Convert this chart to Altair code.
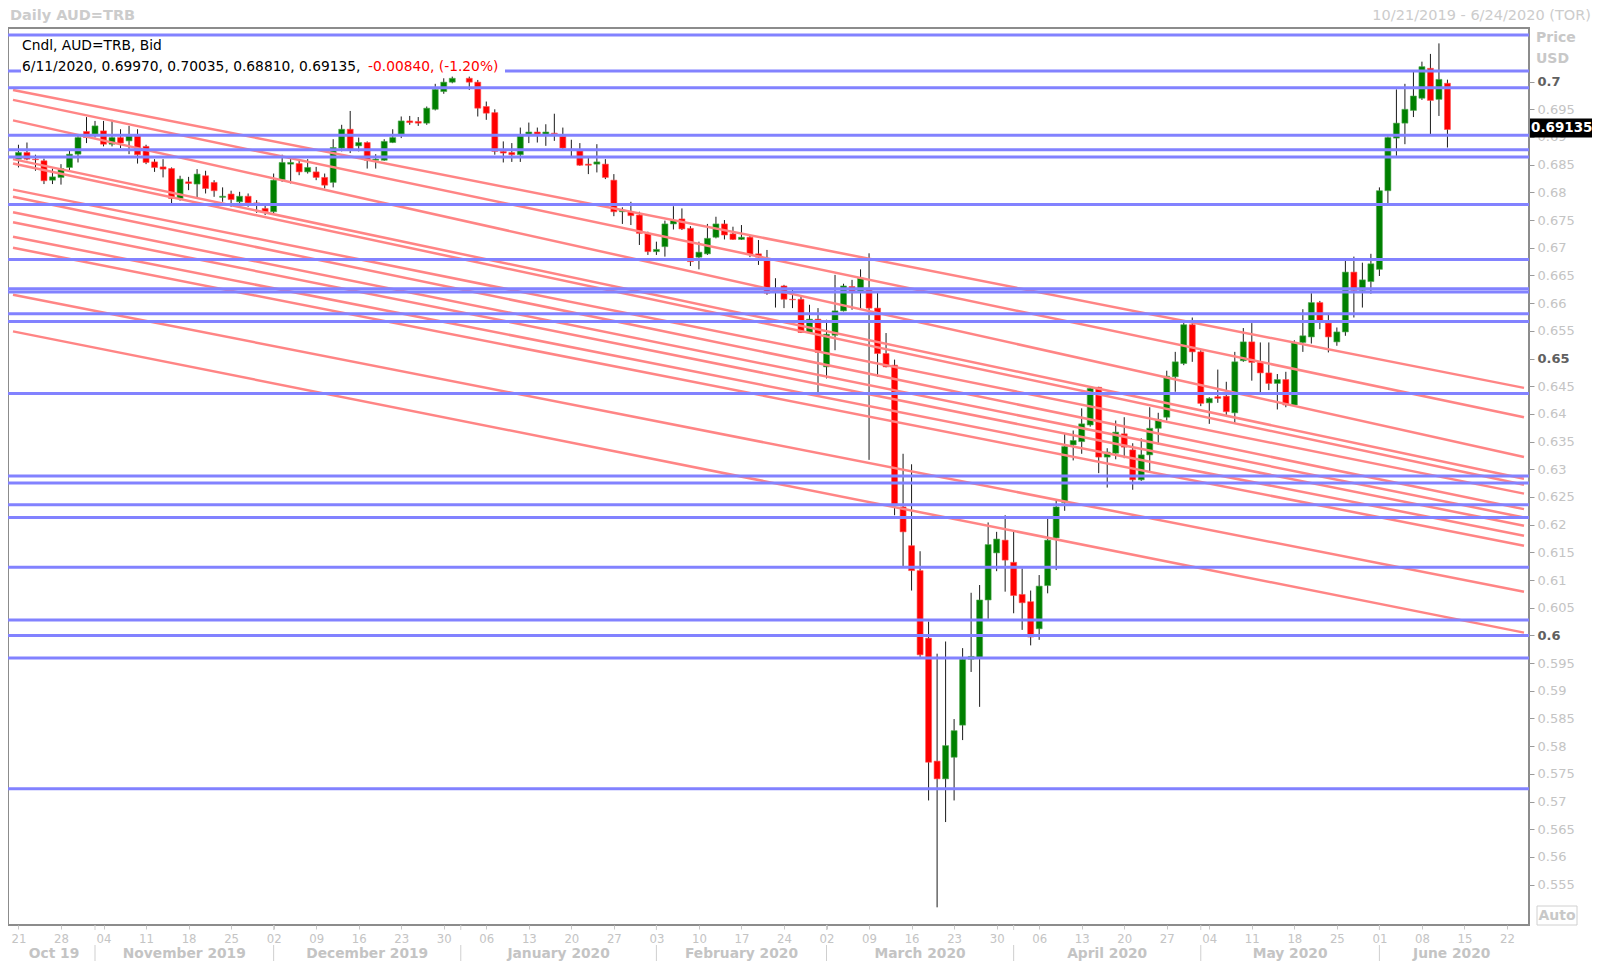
import altair as alt
import pandas as pd

# ---------------- data ----------------
first_day = "2019-10-21"
last_day = "2020-06-11"
axis_end_day = "2020-06-24"
missing_days = ["2020-01-01"]

opens = [.6860,.6872,.6860,.6857,.6822,.6827,.6845,.6869,.6910,.6905,
         .6911,.6887,.6899,.6893,.6902,.6883,.6855,.6846,.6843,.6789,
         .6819,.6815,.6830,.6818,.6791,.6797,.6783,.6793,.6781,.6771,
         .6765,.6823,.6851,.6852,.6837,.6837,.6827,.6818,.6880,.6914,
         .6884,.6890,.6858,.6858,.6890,.6905,.6929,.6928,.6925,.6950,
         .6982,.6999,.7006,.6999,.6955,.6944,.6874,.6872,.6868,.6905,
         .6909,.6905,.6907,.6901,.6878,.6875,.6851,.6851,.6851,.6822,
         .6765,.6765,.6759,.6726,.6693,.6702,.6743,.6752,.6735,.6683,
         .6689,.6719,.6743,.6725,.6715,.6719,.6689,.6677,.6624,.6631,
         .6607,.6607,.6547,.6571,.6485,.6542,.6586,.6630,.6621,.6624,
         .6591,.6509,.6488,.6232,.6162,.6117,.5995,.5773,.5741,.5780,
         .5838,.5957,.5960,.6064,.6149,.6172,.6132,.6074,.6061,.6012,
         .6090,.6176,.6240,.6344,.6350,.6380,.6448,.6322,.6329,.6364,
         .6335,.6281,.6326,.6374,.6394,.6467,.6491,.6561,.6512,.6420,
         .6431,.6432,.6402,.6496,.6530,.6493,.6474,.6455,.6462,.6416,
         .6529,.6539,.6601,.6564,.6530,.6548,.6656,.6623,.6639,.6661,
         .6803,.6898,.6925,.6948,.6970,.7024,.6968,.69970]
highs = [.6886,.6890,.6868,.6861,.6843,.6851,.6877,.6905,.6936,.6929,
         .6929,.6931,.6914,.6920,.6914,.6886,.6860,.6860,.6845,.6830,
         .6828,.6842,.6839,.6822,.6809,.6803,.6801,.6798,.6786,.6777,
         .6834,.6868,.6865,.6860,.6860,.6846,.6834,.6896,.6922,.6947,
         .6899,.6892,.6869,.6896,.6914,.6937,.6938,.6936,.6955,.6996,
         .7006,.7009,.7009,.7003,.6964,.6950,.6892,.6889,.6917,.6926,
         .6917,.6923,.6942,.6917,.6895,.6889,.6862,.6887,.6860,.6833,
         .6773,.6783,.6765,.6729,.6711,.6749,.6775,.6771,.6739,.6711,
         .6743,.6756,.6750,.6738,.6741,.6723,.6714,.6696,.6645,.6633,
         .6627,.6612,.6597,.6591,.6570,.6651,.6635,.6642,.6661,.6690,
         .6621,.6546,.6498,.6328,.6309,.6152,.6025,.5967,.5989,.5849,
         .5977,.6077,.6091,.6204,.6187,.6217,.6187,.6121,.6081,.6109,
         .6212,.6244,.6365,.6370,.6410,.6449,.6449,.6338,.6388,.6394,
         .6347,.6356,.6412,.6402,.6478,.6512,.6564,.6574,.6515,.6430,
         .6480,.6458,.6512,.6555,.6564,.6529,.6529,.6472,.6476,.6533,
         .6589,.6618,.6604,.6579,.6556,.6677,.6684,.6673,.6689,.6809,
         .6901,.6986,.6996,.7018,.7036,.7050,.7069,.70035]
lows = [.6845,.6858,.6839,.6815,.6815,.6814,.6837,.6854,.6889,.6899,
        .6883,.6883,.6880,.6869,.6852,.6851,.6837,.6827,.6779,.6785,
        .6804,.6791,.6798,.6792,.6783,.6774,.6775,.6774,.6763,.6759,
        .6762,.6819,.6816,.6831,.6834,.6822,.6807,.6809,.6874,.6871,
        .6874,.6843,.6843,.6857,.6889,.6898,.6922,.6920,.6922,.6948,
        .6978,.6997,.6985,.6937,.6931,.6868,.6854,.6855,.6855,.6889,
        .6890,.6884,.6893,.6878,.6865,.6848,.6833,.6836,.6824,.6757,
        .6743,.6741,.6705,.6687,.6687,.6684,.6733,.6732,.6667,.6661,
        .6687,.6717,.6715,.6714,.6714,.6683,.6669,.6615,.6592,.6591,
        .6591,.6546,.6546,.6438,.6464,.6515,.6585,.6588,.6591,.6317,
        .6467,.6484,.6217,.6124,.6081,.5960,.5702,.5509,.5663,.5702,
        .5811,.5934,.5871,.6030,.6116,.6079,.6040,.6010,.5982,.5992,
        .6076,.6118,.6225,.6316,.6328,.6377,.6293,.6267,.6318,.6320,
        .6263,.6279,.6296,.6344,.6388,.6440,.6488,.6494,.6414,.6382,
        .6420,.6396,.6382,.6494,.6460,.6438,.6443,.6408,.6412,.6414,
        .6512,.6527,.6553,.6511,.6523,.6541,.6574,.6592,.6617,.6649,
        .6779,.6866,.6887,.6936,.6967,.6904,.6938,.68810]
closes = [.6872,.6860,.6859,.6821,.6828,.6843,.6869,.6899,.6899,.6920,
          .6887,.6899,.6889,.6902,.6868,.6854,.6845,.6842,.6789,.6824,
          .6816,.6833,.6807,.6803,.6793,.6787,.6793,.6781,.6779,.6765,
          .6822,.6854,.6854,.6837,.6845,.6827,.6813,.6881,.6914,.6878,
          .6890,.6858,.6860,.6892,.6899,.6929,.6926,.6925,.6952,.6986,
          .6999,.7006,.6999,.6952,.6943,.6874,.6871,.6868,.6902,.6909,
          .6905,.6909,.6906,.6880,.6877,.6849,.6849,.6855,.6827,.6765,
          .6768,.6758,.6726,.6693,.6697,.6743,.6749,.6734,.6675,.6692,
          .6717,.6743,.6723,.6715,.6719,.6688,.6683,.6618,.6627,.6607,
          .6606,.6547,.6571,.6511,.6544,.6586,.6631,.6619,.6645,.6591,
          .6509,.6485,.6237,.6187,.6117,.5965,.5771,.5741,.5801,.5828,
          .5957,.5962,.6064,.6164,.6174,.6136,.6072,.6059,.5997,.6089,
          .6172,.6232,.6341,.6352,.6382,.6446,.6322,.6331,.6367,.6340,
          .6281,.6326,.6374,.6390,.6468,.6494,.6561,.6512,.6419,.6428,
          .6428,.6404,.6494,.6530,.6493,.6474,.6455,.6462,.6416,.6529,
          .6541,.6601,.6568,.6539,.6548,.6656,.6623,.6642,.6671,.6803,
          .6899,.6925,.6950,.6974,.7027,.6966,.7004,.69135]

day_labels = ["21","28","04","11","18","25","02","09","16","23","30","06",
              "13","20","27","03","10","17","24","02","09","16","23","30",
              "06","13","20","27","04","11","18","25","01","08","15","22"]
month_names = ["Oct 19","November 2019","December 2019","January 2020",
               "February 2020","March 2020","April 2020","May 2020","June 2020"]
month_first_days = ["2019-11-01","2019-12-02","2020-01-01","2020-02-03",
                    "2020-03-02","2020-04-01","2020-05-01","2020-06-01"]

support_levels = [0.7084,0.7019,0.6989,0.6903,0.6877,0.6864,0.6778,0.6679,
                  0.6626,0.6620,0.6581,0.6567,0.6437,0.6288,0.6275,0.6236,
                  0.6213,0.6123,0.6028,0.6000,0.5959,0.5723]
trend_left = [0.6985,0.6967,0.6930,0.6860,0.6852,0.6805,0.6792,0.6764,
              0.6746,0.6720,0.6700,0.6615,0.6549]
trend_right = [0.6447,0.6394,0.6322,0.6283,0.6272,0.6256,0.6228,0.6213,
               0.6198,0.6180,0.6162,0.6079,0.6005]

last_price = 0.69135
price_ticks = [0.555,0.56,0.565,0.57,0.575,0.58,0.585,0.59,0.595,0.6,0.605,0.61,
               0.615,0.62,0.625,0.63,0.635,0.64,0.645,0.65,0.655,0.66,0.665,
               0.67,0.675,0.68,0.685,0.69,0.695,0.7]
legend_line1 = "Cndl, AUD=TRB, Bid"
legend_line2a = "6/11/2020, 0.69970, 0.70035, 0.68810, 0.69135,"
legend_line2b = "-0.00840, (-1.20%)"

# ---------------- frame ----------------
W, H = 1521, 897
X_DOM = [-0.642, 177.0]
Y_DOM = [0.54771, 0.70968]

all_days = pd.bdate_range(first_day, axis_end_day)
pos = {d: i for i, d in enumerate(all_days)}
trade_days = [d for d in pd.bdate_range(first_day, last_day)
              if d not in pd.to_datetime(missing_days)]
ks = [pos[d] for d in trade_days]

candles = pd.DataFrame({"k": ks, "o": opens, "h": highs, "l": lows, "c": closes})
candles["dir"] = ["up" if c >= o else "down" for o, c in zip(opens, closes)]

monday_k = [pos[d] for d in all_days if d.weekday() == 0]
month_k = [pos[all_days[all_days >= pd.Timestamp(m)][0]] for m in month_first_days]
bounds = [X_DOM[0]] + month_k + [X_DOM[1]]
months = pd.DataFrame({"k": [(a + b) / 2 for a, b in zip(bounds[:-1], bounds[1:])],
                       "name": month_names})
seps = pd.DataFrame({"k": month_k})

levels = pd.DataFrame({"p": support_levels})
trend_rows = []
for i, (a, b) in enumerate(zip(trend_left, trend_right)):
    trend_rows.append({"id": i, "k": X_DOM[0], "p": a})
    trend_rows.append({"id": i, "k": X_DOM[1], "p": b})
trends = pd.DataFrame(trend_rows)

xs = alt.Scale(domain=X_DOM, nice=False, zero=False)
ys = alt.Scale(domain=Y_DOM, nice=False, zero=False)

label_arr = "[" + ",".join("'%s'" % s for s in day_labels) + "]"
x_axis = alt.Axis(values=monday_k, labelExpr=label_arr + "[round(datum.value/5)]",
                  title=None, grid=False, domain=False, tickColor="#c8c8c8",
                  tickSize=4, labelColor="#c4c4c4", labelFontSize=13,
                  labelFont="DejaVu Sans Condensed, DejaVu Sans", labelPadding=3,
                  labelFlush=10, labelOverlap=False)
bold_test = "round(datum.value*1000) % 50 == 0"
y_axis = alt.Axis(orient="right", values=price_ticks, format=".3~f", title=None,
                  grid=False, domain=False, tickColor="#9a9a9a", tickSize=5,
                  labelFont="DejaVu Sans", labelFontSize=13, labelPadding=3,
                  labelOverlap=False, labelBound=False, labelSeparation=0,
                  labelColor={"expr": bold_test + " ? '#606060' : '#c4c4c4'"},
                  labelFontWeight={"expr": bold_test + " ? 'bold' : 'normal'"})

XQ = lambda f: alt.X(f, scale=xs, axis=x_axis)
YQ = lambda f: alt.Y(f, scale=ys, axis=y_axis)

base = alt.Chart(candles)
wicks = base.mark_rule(color="#1a1a1a", strokeWidth=1).encode(
    x=XQ("k:Q"), y=YQ("l:Q"), y2="h:Q")
bodies = base.mark_bar(size=6, strokeWidth=0.6).encode(
    x=XQ("k:Q"), y=YQ("o:Q"), y2="c:Q",
    color=alt.Color("dir:N", scale=alt.Scale(domain=["up", "down"],
                    range=["#008000", "#ff0000"]), legend=None),
    stroke=alt.Stroke("dir:N", scale=alt.Scale(domain=["up", "down"],
                      range=["#4fa84f", "#ff5050"]), legend=None))

red_lines = alt.Chart(trends).mark_line(color="#ff8585", strokeWidth=2.5, clip=True).encode(
    x=XQ("k:Q"), y=YQ("p:Q"), detail="id:N")
blue_lines = alt.Chart(levels).mark_rule(color="#8282ff", strokeWidth=3).encode(
    y=YQ("p:Q"))

legend_bg = alt.Chart(pd.DataFrame({"a": [0]})).mark_rect(color="white").encode(
    x=alt.value(13), x2=alt.value(497), y=alt.value(10), y2=alt.value(48))
legend_txt = alt.Chart(pd.DataFrame({"t": [legend_line1, legend_line2a],
                                     "yy": [18, 39]})).mark_text(
    align="left", baseline="middle", font="DejaVu Sans", fontSize=13.8, color="#000").encode(
    x=alt.value(14), y=alt.Y("yy:Q", scale=None, axis=None), text="t:N")
legend_red = alt.Chart(pd.DataFrame({"t": [legend_line2b]})).mark_text(
    align="left", baseline="middle", font="DejaVu Sans", fontSize=13.8, color="#ff0000").encode(
    x=alt.value(360), y=alt.value(39), text="t:N")

last_df = pd.DataFrame({"p": [last_price], "t": ["%.5f" % last_price]})
last_box = alt.Chart(last_df).mark_rect(color="black", yOffset=-11, y2Offset=8).encode(
    x=alt.value(W + 1), x2=alt.value(W + 63), y=YQ("p:Q"), y2="p:Q")
last_txt = alt.Chart(last_df).mark_text(align="left", baseline="middle", dy=-1.5,
                                        font="DejaVu Sans", fontSize=13.5,
                                        fontWeight="bold", color="white").encode(
    x=alt.value(W + 2), y=YQ("p:Q"), text="t:N")

month_txt = alt.Chart(months).mark_text(baseline="alphabetic", font="DejaVu Sans",
                                        fontSize=13.8, fontWeight="bold", color="#c4c4c4").encode(
    x=XQ("k:Q"), y=alt.value(H + 33), text="name:N")
month_sep = alt.Chart(seps).mark_rule(color="#cfcfcf", strokeWidth=1).encode(
    x=XQ("k:Q"), y=alt.value(H + 20), y2=alt.value(H + 36))
month_tick = alt.Chart(seps).mark_rule(color="#cfcfcf", strokeWidth=1).encode(
    x=XQ("k:Q"), y=alt.value(H), y2=alt.value(H + 5))

hdr = pd.DataFrame({"t": ["Daily AUD=TRB"]})
title_l = alt.Chart(hdr).mark_text(align="left", baseline="alphabetic", font="DejaVu Sans",
                                   fontSize=14.5, fontWeight="bold", color="#cccccc").encode(
    x=alt.value(2), y=alt.value(-8.5), text="t:N")
title_r = alt.Chart(pd.DataFrame({"t": ["10/21/2019 - 6/24/2020 (TOR)"]})).mark_text(
    align="right", baseline="alphabetic", font="DejaVu Sans", fontSize=14.5, color="#cccccc").encode(
    x=alt.value(1583), y=alt.value(-8.5), text="t:N")
price_lbl = alt.Chart(pd.DataFrame({"t": ["Price", "USD"], "yy": [10, 31]})).mark_text(
    align="left", baseline="middle", font="DejaVu Sans", fontSize=14, fontWeight="bold",
    color="#c8c8c8").encode(x=alt.value(W + 7), y=alt.Y("yy:Q", scale=None, axis=None), text="t:N")
auto_box = alt.Chart(pd.DataFrame({"a": [0]})).mark_rect(
    fill="white", stroke="#d0d0d0", strokeWidth=1).encode(
    x=alt.value(W + 8), x2=alt.value(W + 48), y=alt.value(H - 19), y2=alt.value(H))
auto_txt = alt.Chart(pd.DataFrame({"t": ["Auto"]})).mark_text(
    align="center", baseline="middle", font="DejaVu Sans", fontSize=14, fontWeight="bold",
    color="#c8c8c8").encode(x=alt.value(W + 28), y=alt.value(H - 9), text="t:N")

chart = alt.layer(
    wicks, bodies, red_lines, blue_lines, legend_bg, legend_txt, legend_red,
    last_box, last_txt, month_txt, month_sep, month_tick, title_l, title_r,
    price_lbl, auto_box, auto_txt
).properties(
    width=W, height=H,
    autosize=alt.AutoSizeParams(type="none"),
    padding={"left": 0, "top": 20, "right": 63, "bottom": 36},
    background="white",
).configure_view(stroke="#8c8c8c", strokeWidth=2
).configure_axisY(labelOverlap=False)

chart.save("out.html", embed_options={"renderer": "svg", "actions": False})
